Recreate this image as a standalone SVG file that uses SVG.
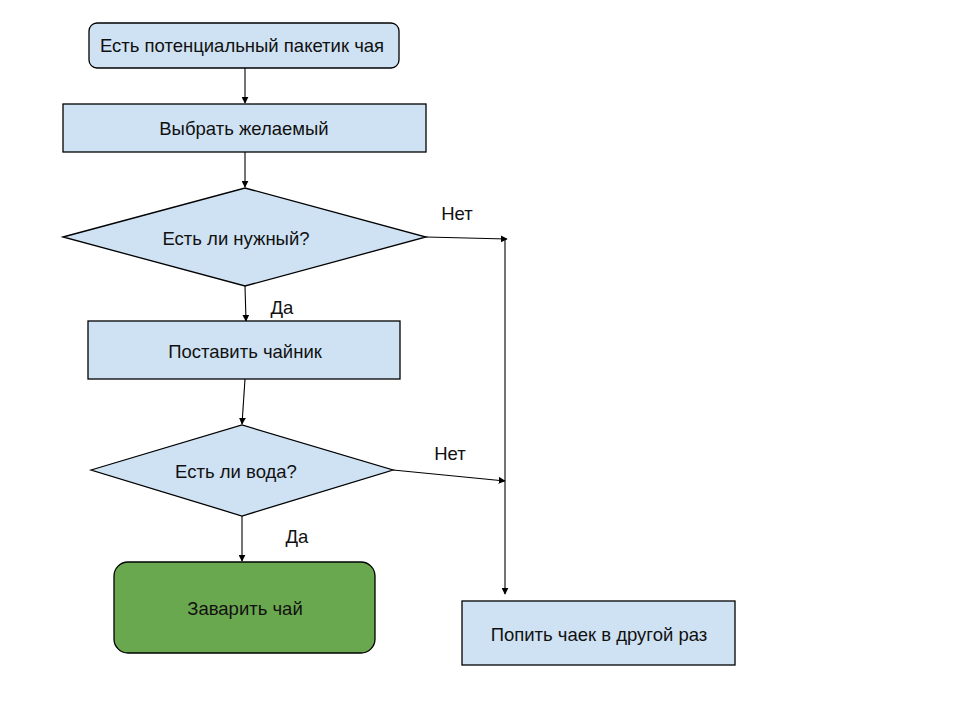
<svg xmlns="http://www.w3.org/2000/svg" width="960" height="720" viewBox="0 0 960 720">
<style>
.n{fill:#cfe2f3;stroke:#000;stroke-width:1.3}
.g{fill:#6aa84f;stroke:#000;stroke-width:1.3}
.t{font-family:"Liberation Sans",Arial,sans-serif;font-size:18.5px;fill:#111;text-anchor:middle;dominant-baseline:central}
.c{fill:none;stroke:#000;stroke-width:1.1}
</style>
<defs>
<marker id="a" viewBox="0 0 10 10" refX="9" refY="5" markerWidth="7" markerHeight="7" markerUnits="userSpaceOnUse" orient="auto">
<path d="M0,0 L10,5 L0,10 z" fill="#000"/>
</marker>
</defs>
<rect width="960" height="720" fill="#fff"/>
<g id="connectors">
<path class="c" d="M245,68 L245,103" marker-end="url(#a)"/>
<path class="c" d="M245,152 L245,187" marker-end="url(#a)"/>
<path class="c" d="M426,237 L507,239" marker-end="url(#a)"/>
<path class="c" d="M505,239 L505,594" marker-end="url(#a)"/>
<path class="c" d="M245,286 L246,321" marker-end="url(#a)"/>
<path class="c" d="M245,379 L242,424" marker-end="url(#a)"/>
<path class="c" d="M393,470 L505,481" marker-end="url(#a)"/>
<path class="c" d="M242,516 L242,561" marker-end="url(#a)"/>
<text class="t" x="457" y="213">Нет</text>
<text class="t" x="282" y="307">Да</text>
<text class="t" x="450" y="453">Нет</text>
<text class="t" x="297" y="536">Да</text>
</g>
<g id="start">
<rect class="n" x="89" y="23" width="310" height="45" rx="8"/>
<text class="t" x="242" y="45">Есть потенциальный пакетик чая</text>
</g>
<g id="choose">
<rect class="n" x="63" y="104" width="363" height="48"/>
<text class="t" x="244" y="128">Выбрать желаемый</text>
</g>
<g id="decision1">
<polygon class="n" points="63,237 245,188 426,237 245,286"/>
<text class="t" x="236" y="238">Есть ли нужный?</text>
</g>
<g id="kettle">
<rect class="n" x="88" y="321" width="312" height="58"/>
<text class="t" x="245" y="351">Поставить чайник</text>
</g>
<g id="decision2">
<polygon class="n" points="91,470 242,425 393,470 242,516"/>
<text class="t" x="236" y="471">Есть ли вода?</text>
</g>
<g id="brew">
<rect class="g" x="114" y="562" width="261" height="91" rx="14"/>
<text class="t" x="245" y="608">Заварить чай</text>
</g>
<g id="later">
<rect class="n" x="462" y="601" width="273" height="64"/>
<text class="t" x="599" y="634">Попить чаек в другой раз</text>
</g>
</svg>
